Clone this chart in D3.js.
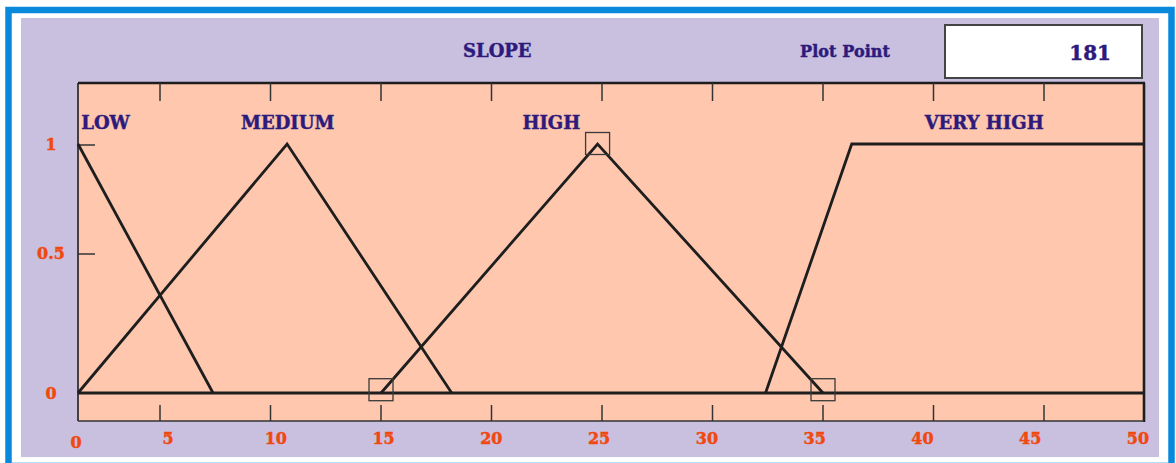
<!DOCTYPE html>
<html><head><meta charset="utf-8">
<script src="https://cdn.jsdelivr.net/npm/d3@7"></script>
<style>html,body{margin:0;padding:0;background:#fff;overflow:hidden}</style>
</head><body>
<svg id="chart" width="1176" height="463"></svg>
<script>
// ---- data ----
const title = "SLOPE";
const plotPointLabel = "Plot Point";
const plotPointValue = 181;
const categories = ["LOW", "MEDIUM", "HIGH", "VERY HIGH"];
const lowX = [0, 7.4], lowY = [1, 0];
const mediumX = [0, 10.75, 18.2], mediumY = [0, 1, 0];
const highX = [15, 24.8, 35], highY = [0, 1, 0];
const veryHighX = [32.4, 36.3, 50], veryHighY = [0, 1, 1];
const xTicks = [0, 5, 10, 15, 20, 25, 30, 35, 40, 45, 50];
const yTicks = [0, 0.5, 1];
// category label anchor (x value, y value)
const labelX = [0.2, 8.67, 21.4, 39.6];
const labelY = [1.07, 1.07, 1.07, 1.07];
// marked points (squares) on HIGH set
const markX = [15, 24.8, 35], markY = [0.01, 1, 0.01];

const svg = d3.select("#chart");
const W = 1176, H = 463;
const purple = "#2c1a7c", orange = "#f0480e", ink = "#1e1e1e";
const font = "'DejaVu Serif', serif";

// outer frame
svg.append("rect").attr("x", 0).attr("y", 0).attr("width", W).attr("height", H).attr("fill", "#fff");
svg.append("rect").attr("x", 8.5).attr("y", 10).attr("width", 1163).attr("height", 460)
  .attr("fill", "none").attr("stroke", "#0889dc").attr("stroke-width", 6.5);
svg.append("rect").attr("x", 21).attr("y", 18).attr("width", 1138).attr("height", 439).attr("fill", "#c9bfdf");
svg.append("line").attr("x1", 12).attr("x2", 1168).attr("y1", 462.5).attr("y2", 462.5)
  .attr("stroke", "#aee0f8").attr("stroke-width", 1);

// scales (the original's axis is not uniform, hence piecewise domains)
const x = d3.scaleLinear().domain([0, 5, 45, 50]).range([78, 160, 1044, 1144]);
const y = d3.scaleLinear().domain([0, 0.5, 1]).range([393, 253, 144]);
const xLab = d3.scaleLinear().domain([0, 5, 50]).range([76, 168, 1138]);

const pLeft = x(0), pRight = x(50), pTop = 83, pBottom = 421;

// plot area
svg.append("rect").attr("x", pLeft).attr("y", pTop).attr("width", pRight - pLeft).attr("height", pBottom - pTop)
  .attr("fill", "#fec7ae");

// frame
svg.append("line").attr("x1", pLeft).attr("x2", pLeft).attr("y1", pTop).attr("y2", pBottom).attr("stroke", ink).attr("stroke-width", 1.6);
svg.append("line").attr("x1", pRight).attr("x2", pRight).attr("y1", pTop).attr("y2", pBottom + 1).attr("stroke", ink).attr("stroke-width", 2.6);
svg.append("line").attr("x1", pLeft).attr("x2", pRight + 1).attr("y1", pTop).attr("y2", pTop).attr("stroke", ink).attr("stroke-width", 2.6);
svg.append("line").attr("x1", pLeft).attr("x2", pRight).attr("y1", pBottom).attr("y2", pBottom).attr("stroke", "#333").attr("stroke-width", 1.4);

// ticks
const inner = xTicks.slice(1, -1);
svg.append("g").selectAll("line").data(inner).join("line")
  .attr("x1", d => x(d)).attr("x2", d => x(d)).attr("y1", pTop).attr("y2", pTop + 18)
  .attr("stroke", "#333").attr("stroke-width", 1.5);
svg.append("g").selectAll("line").data(inner).join("line")
  .attr("x1", d => x(d)).attr("x2", d => x(d)).attr("y1", pBottom - 16).attr("y2", pBottom)
  .attr("stroke", "#333").attr("stroke-width", 1.5);
svg.append("g").selectAll("line").data(yTicks.filter(d => d > 0)).join("line")
  .attr("x1", pLeft).attr("x2", pLeft + 17).attr("y1", d => y(d) + 1).attr("y2", d => y(d) + 1)
  .attr("stroke", "#333").attr("stroke-width", 1.5);

// baseline
svg.append("line").attr("x1", pLeft).attr("x2", pRight).attr("y1", y(0)).attr("y2", y(0))
  .attr("stroke", ink).attr("stroke-width", 3.2);

// membership functions
const sets = [[lowX, lowY], [mediumX, mediumY], [highX, highY], [veryHighX, veryHighY]];
const line = d3.line().x(d => x(d[0])).y(d => y(d[1]));
svg.append("g").selectAll("path").data(sets).join("path")
  .attr("d", s => line(s[0].map((v, i) => [v, s[1][i]])))
  .attr("fill", "none").attr("stroke", ink).attr("stroke-width", 2.8).attr("stroke-linejoin", "miter");

// marked points
svg.append("g").selectAll("rect").data(markX).join("rect")
  .attr("x", (d) => x(d) - 12).attr("y", (d, i) => y(markY[i]) - 11.5)
  .attr("width", 24).attr("height", 22)
  .attr("fill", "none").attr("stroke", "#3a3a3a").attr("stroke-width", 1.3);

function heavy(sel, color) {
  return sel.attr("font-family", font).attr("font-weight", "bold").attr("fill", color)
    .attr("stroke", color).attr("stroke-width", 0.45);
}

// category labels
heavy(svg.append("g").selectAll("text").data(categories).join("text")
  .attr("x", (d, i) => x(labelX[i])).attr("y", (d, i) => y(labelY[i]))
  .attr("font-size", 18), purple).text(d => d);

// title + plot point
heavy(svg.append("text").attr("x", 463).attr("y", 57).attr("font-size", 18), purple).text(title);
heavy(svg.append("text").attr("x", 800).attr("y", 57).attr("font-size", 16).attr("textLength", 90), purple)
  .text(plotPointLabel);
svg.append("rect").attr("x", 945).attr("y", 25).attr("width", 197).attr("height", 53)
  .attr("fill", "#fff").attr("stroke", "#444").attr("stroke-width", 2);
heavy(svg.append("text").attr("x", 1111).attr("y", 60).attr("text-anchor", "end").attr("font-size", 20), purple)
  .text(plotPointValue);

// axis labels
heavy(svg.append("g").selectAll("text").data(xTicks).join("text")
  .attr("x", d => xLab(d)).attr("y", d => d === 0 ? 448 : 444).attr("text-anchor", "middle")
  .attr("font-size", 16), orange).text(d => d);
heavy(svg.append("g").selectAll("text").data(yTicks).join("text")
  .attr("x", 51).attr("y", d => y(d) + 6).attr("text-anchor", "middle")
  .attr("font-size", 16), orange).text(d => d);
</script>
</body></html>
